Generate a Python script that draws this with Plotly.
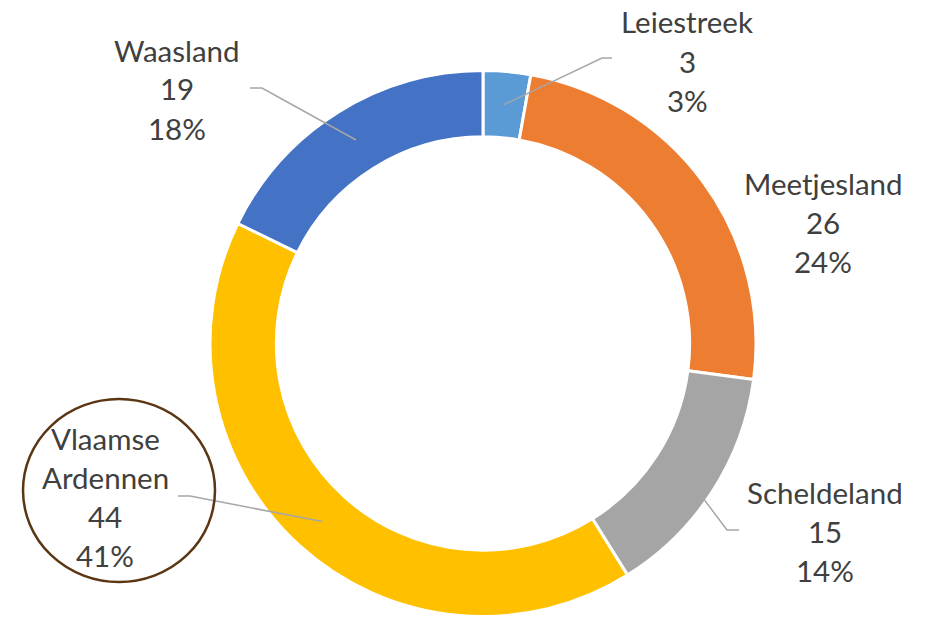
import math
import plotly.graph_objects as go

regions = ["Leiestreek", "Meetjesland", "Scheldeland", "Vlaamse Ardennen", "Waasland"]
counts = [3, 26, 15, 44, 19]
percent_labels = ["3%", "24%", "14%", "41%", "18%"]
colors = ["#5B9BD5", "#ED7D31", "#A5A5A5", "#FFC000", "#4472C4"]
label_lines = [["Leiestreek"], ["Meetjesland"], ["Scheldeland"], ["Vlaamse", "Ardennen"], ["Waasland"]]

FW, FH = 928, 617
CX, CY = 483.0, 343.5
R_OUT = 273.0
HOLE = 0.757
R_MID = R_OUT * (1 + HOLE) / 2

def px(x):
    return x / FW

def py(y):
    return 1 - y / FH

fig = go.Figure()
fig.add_trace(go.Pie(
    labels=regions,
    values=counts,
    marker=dict(colors=colors, line=dict(color="white", width=3)),
    hole=HOLE,
    sort=False,
    direction="clockwise",
    rotation=0,
    textinfo="none",
    hoverinfo="label+value+percent",
    domain=dict(x=[px(CX - R_OUT), px(CX + R_OUT)], y=[py(CY + R_OUT), py(CY - R_OUT)]),
    showlegend=False,
))

# label line centres (x, list of y per line)
label_pos = [
    (687, [22, 61, 100]),
    (823, [183, 222, 261]),
    (825, [492, 531, 570]),
    (105, [438, 477, 516, 555]),
    (177, [50, 89, 128]),
]
# leader line elbow / end points (None = no leader)
leaders = [((602, 58), (612, 58)), None, ((727, 530), (739, 530)), ((190, 496), (178, 496)), ((262, 88), (250, 88))]

total = sum(counts)
cum = 0
shapes = []
annotations = []
for i, v in enumerate(counts):
    mid = (cum + v / 2) / total * 2 * math.pi
    cum += v
    sx = CX + R_MID * math.sin(mid)
    sy = CY - R_MID * math.cos(mid)
    if leaders[i] is not None:
        (ex, ey), (fx, fy) = leaders[i]
        shapes.append(dict(
            type="path", xref="paper", yref="paper",
            path=f"M {px(sx)},{py(sy)} L {px(ex)},{py(ey)} L {px(fx)},{py(fy)}",
            line=dict(color="#A6A6A6", width=1.5), layer="above",
        ))
    lines = label_lines[i] + [str(v), percent_labels[i]]
    lx, lys = label_pos[i]
    for t, ly in zip(lines, lys):
        annotations.append(dict(
            text=t, x=px(lx), y=py(ly), xref="paper", yref="paper",
            xanchor="center", yanchor="middle", showarrow=False,
            font=dict(family="Lato, Liberation Sans, sans-serif", size=29.5, color="#404040"),
        ))

# highlight circle around Vlaamse Ardennen label
shapes.append(dict(
    type="circle", xref="paper", yref="paper",
    x0=px(23), x1=px(215), y0=py(582), y1=py(399),
    line=dict(color="#5A3612", width=2.5), layer="above",
))

fig.update_layout(
    width=FW, height=FH,
    margin=dict(l=0, r=0, t=0, b=0),
    paper_bgcolor="white", plot_bgcolor="white",
    shapes=shapes, annotations=annotations,
)

fig.write_html(
    "out.html",
    config={"displayModeBar": False},
    post_script="document.body.style.margin='0';document.body.style.overflow='hidden';",
)
